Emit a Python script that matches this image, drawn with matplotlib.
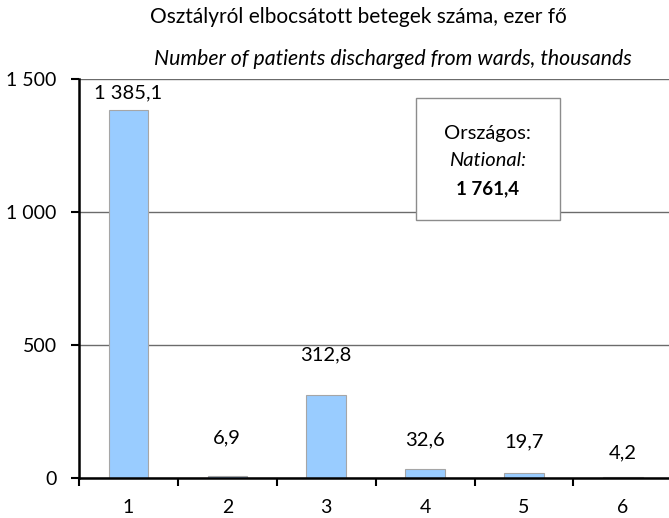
import matplotlib
matplotlib.use("Agg")
import matplotlib.pyplot as plt
from matplotlib.patches import Rectangle
import numpy as np

plt.rcParams['font.family'] = ['Lato', 'DejaVu Sans']

categories = ['1', '2', '3', '4', '5', '6']
values = [1385.1, 6.9, 312.8, 32.6, 19.7, 4.2]
value_labels = ['1 385,1', '6,9', '312,8', '32,6', '19,7', '4,2']
yticks = [0, 500, 1000, 1500]
ytick_labels = ['0', '500', '1 000', '1 500']
title_hu = 'Osztályról elbocsátott betegek száma, ezer fő'
title_en = 'Number of patients discharged from wards, thousands'
box_lines = ['Országos:', 'National:', '1 761,4']

# label offsets (points above bar top)
label_offsets = [12, 28, 29, 21, 22, 17.5]

fig = plt.figure(figsize=(6.69, 5.18), dpi=100)
ax = fig.add_axes([0.118, 0.077, 0.887, 0.770])

x = np.arange(len(categories))
ax.bar(x, values, width=0.4, color='#99CCFF', edgecolor='#A6A6A6', linewidth=0.8, zorder=3)
ax.set_xlim(-0.5, 5.48)
ax.set_ylim(0, 1500)

fs = 14.5
for xi, v, lab, off in zip(x, values, value_labels, label_offsets):
    ax.annotate(lab, (xi, v), xytext=(0, off), textcoords='offset points',
                ha='center', va='center', fontsize=fs, color='black', zorder=5)

ax.set_yticks(yticks)
ax.set_yticklabels(ytick_labels, fontsize=14)
ax.set_xticks(x)
ax.set_xticklabels(categories, fontsize=14)
ax.set_xticks(np.arange(-0.5, len(categories) + 0.5, 1), minor=True)
ax.tick_params(axis='x', which='major', length=0, pad=15)
ax.tick_params(axis='x', which='minor', length=6, width=1.5, direction='out')
ax.tick_params(axis='y', which='major', length=6, width=1.5, direction='out', pad=10)

for s in ['top', 'right']:
    ax.spines[s].set_visible(False)
for s in ['left', 'bottom']:
    ax.spines[s].set_linewidth(1.8)
    ax.spines[s].set_zorder(6)

ax.yaxis.grid(True, color='#6b6b6b', linewidth=1.0, zorder=0)
ax.set_axisbelow(True)

# info box
bx0, bx1 = 2.91, 4.36
by0, by1 = 970, 1428
ax.add_patch(Rectangle((bx0, by0), bx1 - bx0, by1 - by0, facecolor='white',
                       edgecolor='#8c8c8c', linewidth=1.0, zorder=4))
cx = (bx0 + bx1) / 2
ax.text(cx, 1295, box_lines[0], ha='center', va='center', fontsize=fs, zorder=5)
ax.text(cx, 1193, box_lines[1], ha='center', va='center', fontsize=fs, style='italic', zorder=5)
ax.text(cx, 1088, box_lines[2], ha='center', va='center', fontsize=13.5, weight='bold', zorder=5)

fig.text(0.535, 1 - 17 / 518, title_hu, ha='center', va='center', fontsize=15)
fig.text(0.587, 1 - 59 / 518, title_en, ha='center', va='center', fontsize=15.3, style='italic')

fig.savefig('out.png', dpi=100)
